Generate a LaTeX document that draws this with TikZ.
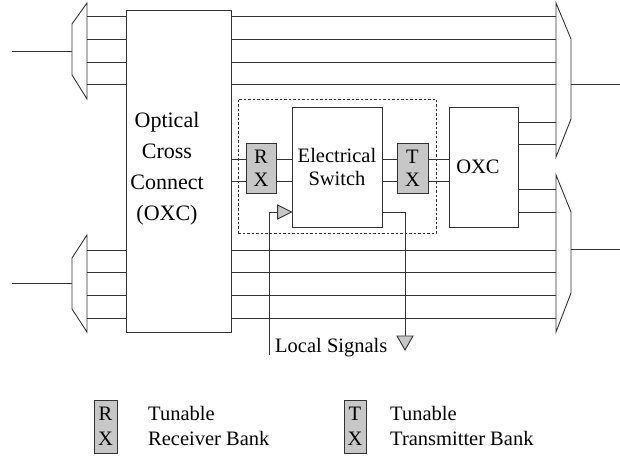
\documentclass[tikz,border=0pt]{standalone}
\usepackage{fontspec}
\setmainfont{Liberation Serif}
\newcommand\dtxt{\fontsize{20.5}{23}\selectfont}
\newcommand\ltxt{\fontsize{20.5}{25}\selectfont}
\newcommand\otxt{\fontsize{22}{31}\selectfont}
\begin{document}
\begin{tikzpicture}[x=1pt,y=-1pt,
  ln/.style={draw=black!80, line width=0.9pt},
  box/.style={ln, rectangle, inner sep=0pt, fill=white},
  bank/.style={box, fill=black!22, align=center, font=\dtxt},
  lbl/.style={inner sep=0pt, font=\dtxt, align=center},
  tri/.style={ln, fill=black!22, line join=miter},
  dashbox/.style={draw=black!80, line width=0.8pt, dash pattern=on 2.5pt off 2pt, rectangle, inner sep=0pt}]
\useasboundingbox (0,0) rectangle (620,457);

% main boxes
\node[box, minimum width=105pt, minimum height=322pt] (oxc) at (178.5,171) {};
\node[lbl, font=\otxt] (oxct) at (167,169) {Optical\\Cross\\Connect\\(OXC)};
\node[dashbox, minimum width=198pt, minimum height=134pt] (grp) at (337,166) {};
\node[box, minimum width=90pt, minimum height=120pt, align=center, font=\dtxt] (sw) at (337,167) {Electrical\\Switch};
\node[bank, minimum width=30pt, minimum height=50pt] (rx) at (261,168) {R\\X};
\node[bank, minimum width=31pt, minimum height=50pt] (tx) at (412.5,168) {T\\X};
\node[box, minimum width=69pt, minimum height=120pt] (soxc) at (483.5,167) {};
\node[lbl] (soxct) at (478,167) {OXC};

% demultiplexers (left) and multiplexers (right)
\draw[ln, line join=miter] (87,3) -- (87,99) -- (72,75) -- (72,24) -- cycle;
\draw[ln, line join=miter] (87,235) -- (87,332) -- (72,309) -- (72,258) -- cycle;
\draw[ln, line join=miter] (556,3) -- (571,39) -- (571,119) -- (556,157) -- cycle;
\draw[ln, line join=miter] (556,175) -- (571,212) -- (571,293) -- (556,332) -- cycle;
\coordinate (dmA) at (72,51);
\coordinate (dmB) at (72,283);
\coordinate (muA) at (571,84);
\coordinate (muB) at (571,249);
\draw[ln] (12,51) -- (dmA);
\draw[ln] (12,283) -- (dmB);
\draw[ln] (muA) -- (620,84);
\draw[ln] (muB) -- (620,249);

% wavelength lines
\foreach \y in {16,39,62,84,250,272,295,318}{
  \draw[ln] (87,\y) -- (oxc.west |- 0,\y);
  \draw[ln] (oxc.east |- 0,\y) -- (556,\y);
}
\foreach \y in {122,144,189,212}{
  \draw[ln] (soxc.east |- 0,\y) -- (556,\y);
}
\foreach \y in {159,181}{
  \draw[ln] (oxc.east |- 0,\y) -- (rx.west |- 0,\y);
  \draw[ln] (rx.east |- 0,\y) -- (sw.west |- 0,\y);
  \draw[ln] (sw.east |- 0,\y) -- (tx.west |- 0,\y);
  \draw[ln] (tx.east |- 0,\y) -- (soxc.west |- 0,\y);
}

% local signals
\coordinate (inA) at (sw.west |- 0,212);
\coordinate (outA) at (sw.east |- 0,212);
\coordinate (locin) at (269,355);
\coordinate (locout) at (405,336);
\draw[ln] (locin) |- ([xshift=-14pt]inA);
\draw[tri] (inA) -- ++(-14,-7) -- ++(0,14) -- cycle;
\draw[ln] (outA) -| (locout);
\draw[tri] (locout) -- ++(-8,0) -- ++(8,14) -- ++(8,-14) -- cycle;
\node[lbl, anchor=west] (loc) at (275,348) {Local Signals};

% legend
\node[bank, minimum width=23pt, minimum height=53pt, font=\ltxt] (lrx) at (105.5,426.5) {R\\X};
\node[lbl, anchor=west, align=left, font=\ltxt] (lrxt) at (148,426) {Tunable\\Receiver Bank};
\node[bank, minimum width=22pt, minimum height=53pt, font=\ltxt] (ltx) at (355,426.5) {T\\X};
\node[lbl, anchor=west, align=left, font=\ltxt] (ltxt) at (390,426) {Tunable\\Transmitter Bank};
\end{tikzpicture}
\end{document}
